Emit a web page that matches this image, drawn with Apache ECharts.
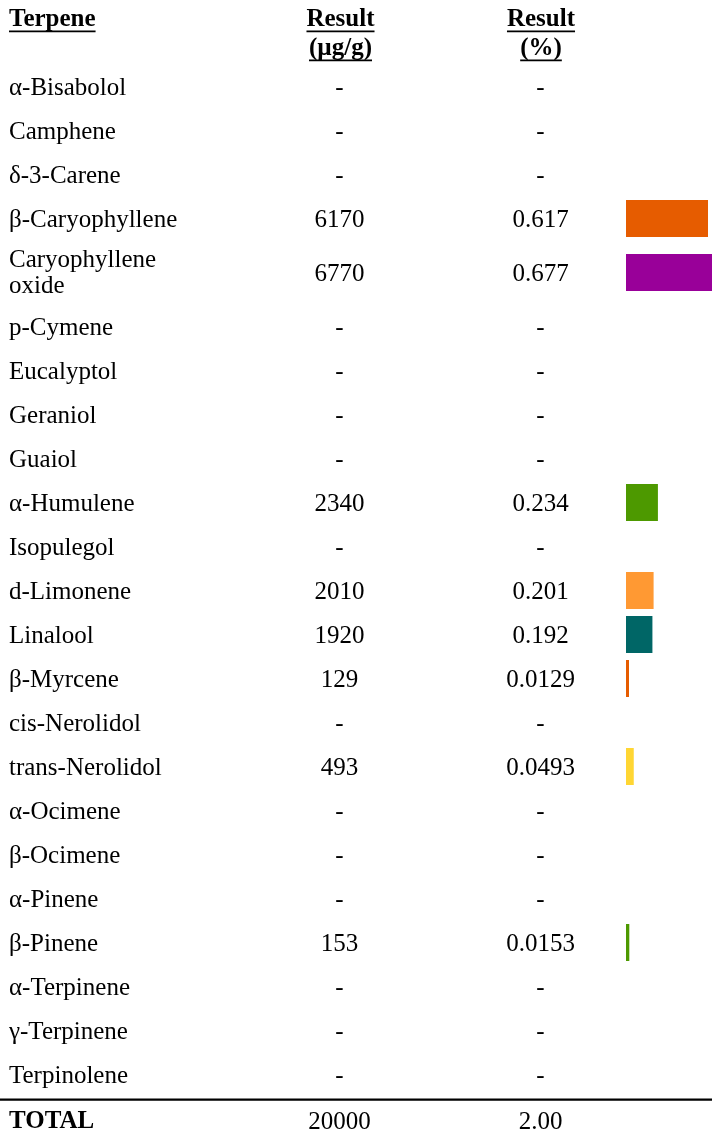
<!DOCTYPE html>
<html>
<head>
<meta charset="utf-8">
<script src="https://cdn.jsdelivr.net/npm/echarts@6/dist/echarts.min.js"></script>
<style>
html,body{margin:0;padding:0;background:#fff;}
#chart{width:712px;height:1134px;}
</style>
</head>
<body>
<div id="chart"></div>
<script>
// ---- data ----
const headerLabels = ['Terpene', 'Result\n(µg/g)', 'Result\n(%)'];
const terpenes = ['α-Bisabolol','Camphene','δ-3-Carene','β-Caryophyllene','Caryophyllene\noxide','p-Cymene','Eucalyptol','Geraniol','Guaiol','α-Humulene','Isopulegol','d-Limonene','Linalool','β-Myrcene','cis-Nerolidol','trans-Nerolidol','α-Ocimene','β-Ocimene','α-Pinene','β-Pinene','α-Terpinene','γ-Terpinene','Terpinolene'];
const resultUgG = [null,null,null,6170,6770,null,null,null,null,2340,null,2010,1920,129,null,493,null,null,null,153,null,null,null];
const resultPct = [null,null,null,0.617,0.677,null,null,null,null,0.234,null,0.201,0.192,0.0129,null,0.0493,null,null,null,0.0153,null,null,null];
const barColors = [null,null,null,'#e65c00','#990099',null,null,null,null,'#4d9900',null,'#ff9933','#006666','#e65c00',null,'#ffd633',null,null,null,'#4d9900',null,null,null];
const totalLabel = 'TOTAL';
const totalUgG = 20000;
const totalPct = 2.00;

// ---- layout ----
const W = 712, H = 1134;
const FAMILY = 'Liberation Serif';
const FSIZE = 25;
const COL_NAME_X = 9, COL_UG_X = 339.5, COL_PCT_X = 540.5;
const ROW_TOP = 65, ROW_H = 44, ROW_H_TALL = 64;
const BAR_H = 37;
const TEXT_DY = 1;
const rowCenter = [];
(function(){
  let y = ROW_TOP;
  terpenes.forEach(n => {
    const h = n.indexOf('\n') >= 0 ? ROW_H_TALL : ROW_H;
    rowCenter.push(y + h / 2);
    y += h;
  });
})();

function fmt(v){ return v == null ? '-' : String(v); }
function txt(str, x, y, align, bold, extra){
  const s = {text:str, x:x, y:y, fontFamily:FAMILY, fontSize:FSIZE, fontWeight:bold ? 'bold' : 'normal',
    fill:'#000', align:align, verticalAlign:'middle', textAlign:align, textVerticalAlign:'middle'};
  if (extra) Object.assign(s, extra);
  return {type:'text', style:s};
}

const chart = echarts.init(document.getElementById('chart'), null, {renderer: 'canvas'});

const mctx = document.createElement('canvas').getContext('2d');
function textW(str, bold){ mctx.font = (bold ? 'bold ' : '') + FSIZE + 'px "' + FAMILY + '"'; return mctx.measureText(str).width; }

const graphics = [];
function headerText(str, x, baselineY, align){
  const w = textW(str, true);
  graphics.push(txt(str, x, baselineY - 8.4, align, true));
  const x0 = align === 'center' ? x - w/2 : x;
  graphics.push({type:'rect', shape:{x:x0, y:baselineY + 2.5, width:w, height:1.7}, style:{fill:'#000'}});
}
headerText(headerLabels[0], COL_NAME_X, 28, 'left');
headerLabels[1].split('\n').forEach((s, k) => headerText(s, COL_UG_X + 1, 28 + k*29, 'center'));
headerLabels[2].split('\n').forEach((s, k) => headerText(s, COL_PCT_X + 0.5, 28 + k*29, 'center'));
graphics.push({type:'rect', shape:{x:0, y:1098.5, width:W, height:2.2}, style:{fill:'#000'}});
graphics.push(txt(totalLabel, COL_NAME_X, 1122, 'left', true));
graphics.push(txt(String(totalUgG), COL_UG_X, 1122, 'center', false));
graphics.push(txt(totalPct.toFixed(2), COL_PCT_X, 1122, 'center', false));

const X_MIN = -0.01, X_MAX = 0.6475;

const option = {
  animation: false,
  backgroundColor: '#fff',
  grid: {left: 626, right: 0, top: 0, bottom: 0},
  xAxis: {type:'value', min:X_MIN, max:X_MAX, show:false},
  yAxis: {type:'value', inverse:true, min:0, max:H, show:false},
  graphic: graphics,
  series: [{
    type: 'custom',
    clip: false,
    data: terpenes.map((n, i) => [i, rowCenter[i], resultPct[i] == null ? 0 : resultPct[i]]),
    renderItem: function(params, api){
      const i = api.value(0);
      const yc = api.coord([0, api.value(1)])[1];
      const ty = yc + TEXT_DY;
      const children = [];
      const isTall = terpenes[i].indexOf('\n') >= 0;
      children.push(txt(terpenes[i], COL_NAME_X, isTall ? ty - 0.5 : ty, 'left', false, {lineHeight:26}));
      children.push(txt(fmt(resultUgG[i]), COL_UG_X, ty, 'center', false));
      children.push(txt(fmt(resultPct[i]), COL_PCT_X, ty, 'center', false));
      if (resultPct[i] != null && barColors[i]) {
        const x0 = api.coord([X_MIN, 0])[0];
        const x1 = api.coord([api.value(2), 0])[0];
        children.push({type:'rect', shape:{x:x0, y:yc - BAR_H/2 - 0.5, width:x1 - x0, height:BAR_H}, style:{fill:barColors[i]}});
      }
      return {type:'group', children:children};
    }
  }]
};
chart.setOption(option);
</script>
</body>
</html>
